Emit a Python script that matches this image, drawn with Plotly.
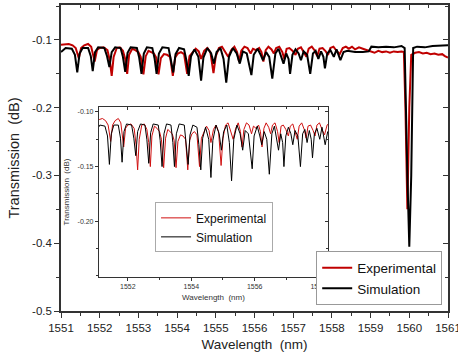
import plotly.graph_objects as go

# ---------------- data ----------------
wl_sim = [1551.00, 1551.12, 1551.28, 1551.36, 1551.42, 1551.48, 1551.56, 1551.70, 1551.77, 1551.82,
          1551.88, 1551.96, 1552.12, 1552.19, 1552.25, 1552.31, 1552.40, 1552.54, 1552.60, 1552.66,
          1552.72, 1552.80, 1552.96, 1553.02, 1553.08, 1553.14, 1553.22, 1553.36, 1553.42, 1553.47,
          1553.53, 1553.62, 1553.78, 1553.84, 1553.90, 1553.96, 1554.05, 1554.18, 1554.24, 1554.30,
          1554.36, 1554.45, 1554.55, 1554.62, 1554.68, 1554.78, 1554.88, 1554.95, 1555.02, 1555.12,
          1555.20, 1555.27, 1555.34, 1555.44, 1555.54, 1555.62, 1555.70, 1555.80, 1555.86, 1555.92,
          1555.98, 1556.08, 1556.16, 1556.22, 1556.30, 1556.38, 1556.46, 1556.54, 1556.62, 1556.70,
          1556.75, 1556.82, 1556.88, 1556.92, 1556.98, 1557.06, 1557.14, 1557.20, 1557.27, 1557.36,
          1557.44, 1557.51, 1557.58, 1557.65, 1557.72, 1557.78, 1557.82, 1557.88, 1557.96, 1558.05,
          1558.12, 1558.22, 1558.30, 1558.40, 1558.60, 1558.80, 1558.95, 1559.02, 1559.20, 1559.40,
          1559.60, 1559.80, 1559.88, 1559.95, 1560.00, 1560.05, 1560.10, 1560.20, 1560.40, 1560.60,
          1560.80, 1561.00]
tr_sim = [-0.118, -0.112, -0.113, -0.122, -0.148, -0.120, -0.112, -0.112, -0.124, -0.146,
          -0.118, -0.111, -0.112, -0.124, -0.140, -0.118, -0.111, -0.112, -0.125, -0.147,
          -0.119, -0.111, -0.112, -0.126, -0.150, -0.120, -0.111, -0.112, -0.128, -0.150,
          -0.120, -0.111, -0.112, -0.128, -0.148, -0.121, -0.112, -0.114, -0.130, -0.153,
          -0.124, -0.114, -0.125, -0.160, -0.126, -0.112, -0.120, -0.135, -0.118, -0.112,
          -0.128, -0.163, -0.125, -0.112, -0.120, -0.135, -0.117, -0.120, -0.135, -0.152,
          -0.122, -0.113, -0.122, -0.130, -0.118, -0.125, -0.157, -0.120, -0.113, -0.125,
          -0.135, -0.120, -0.128, -0.150, -0.122, -0.114, -0.120, -0.130, -0.117, -0.122,
          -0.150, -0.120, -0.116, -0.128, -0.117, -0.125, -0.142, -0.120, -0.115, -0.125,
          -0.114, -0.130, -0.118, -0.116, -0.118, -0.118, -0.117, -0.110, -0.111, -0.110,
          -0.111, -0.109, -0.112, -0.300, -0.405, -0.300, -0.112, -0.110, -0.111, -0.109,
          -0.108, -0.108]

wl_exp = [1551.00, 1551.10, 1551.20, 1551.30, 1551.38, 1551.46, 1551.52, 1551.60, 1551.70, 1551.78,
          1551.87, 1551.93, 1552.00, 1552.10, 1552.20, 1552.26, 1552.31, 1552.36, 1552.44, 1552.52,
          1552.60, 1552.66, 1552.71, 1552.76, 1552.84, 1552.92, 1553.00, 1553.06, 1553.13, 1553.19,
          1553.26, 1553.33, 1553.40, 1553.46, 1553.52, 1553.58, 1553.66, 1553.74, 1553.82, 1553.89,
          1553.95, 1554.02, 1554.10, 1554.18, 1554.26, 1554.32, 1554.40, 1554.48, 1554.56, 1554.62,
          1554.70, 1554.78, 1554.86, 1554.94, 1555.00, 1555.08, 1555.16, 1555.24, 1555.32, 1555.40,
          1555.48, 1555.55, 1555.60, 1555.66, 1555.74, 1555.82, 1555.90, 1555.96, 1556.04, 1556.12,
          1556.18, 1556.23, 1556.29, 1556.36, 1556.44, 1556.50, 1556.56, 1556.64, 1556.72, 1556.77,
          1556.83, 1556.90, 1556.98, 1557.06, 1557.12, 1557.20, 1557.28, 1557.34, 1557.40, 1557.48,
          1557.56, 1557.62, 1557.68, 1557.76, 1557.84, 1557.90, 1557.96, 1558.04, 1558.12, 1558.20,
          1558.28, 1558.36, 1558.44, 1558.52, 1558.60, 1558.70, 1558.80, 1558.90, 1559.00, 1559.10,
          1559.20, 1559.30, 1559.40, 1559.50, 1559.60, 1559.70, 1559.80, 1559.86, 1559.90, 1559.95,
          1560.00, 1560.05, 1560.15, 1560.25, 1560.35, 1560.45, 1560.55, 1560.65, 1560.75, 1560.85,
          1560.92, 1561.00]
tr_exp = [-0.107, -0.107, -0.106, -0.108, -0.112, -0.127, -0.112, -0.108, -0.106, -0.110,
          -0.132, -0.115, -0.112, -0.111, -0.115, -0.130, -0.153, -0.125, -0.112, -0.111,
          -0.116, -0.128, -0.150, -0.122, -0.113, -0.115, -0.118, -0.125, -0.151, -0.124,
          -0.116, -0.118, -0.120, -0.126, -0.151, -0.127, -0.121, -0.122, -0.125, -0.153,
          -0.126, -0.120, -0.118, -0.121, -0.150, -0.124, -0.119, -0.113, -0.117, -0.128,
          -0.116, -0.112, -0.118, -0.149, -0.124, -0.112, -0.110, -0.117, -0.125, -0.115,
          -0.110, -0.118, -0.132, -0.116, -0.110, -0.112, -0.120, -0.113, -0.115, -0.112,
          -0.118, -0.132, -0.115, -0.110, -0.114, -0.120, -0.112, -0.110, -0.118, -0.128,
          -0.113, -0.112, -0.116, -0.122, -0.113, -0.111, -0.118, -0.125, -0.113, -0.110,
          -0.116, -0.124, -0.113, -0.112, -0.117, -0.122, -0.112, -0.110, -0.116, -0.121,
          -0.112, -0.110, -0.113, -0.110, -0.114, -0.111, -0.113, -0.115, -0.117, -0.119,
          -0.116, -0.118, -0.117, -0.119, -0.117, -0.118, -0.117, -0.118, -0.200, -0.350,
          -0.200, -0.122, -0.119, -0.118, -0.120, -0.119, -0.121, -0.120, -0.122, -0.121,
          -0.124, -0.126]

series_names = ["Experimental", "Simulation"]

x_ticks = [1551, 1552, 1553, 1554, 1555, 1556, 1557, 1558, 1559, 1560, 1561]
x_tick_text = ["1551", "1552", "1553", "1554", "1555", "1556", "1557", "1558", "1559", "1560", "1561"]
y_ticks = [-0.5, -0.4, -0.3, -0.2, -0.1]
y_tick_text = ["-0.5", "-0.4", "-0.3", "-0.2", "-0.1"]

inset_x_ticks = [1552, 1554, 1556, 1558]
inset_x_tick_text = ["1552", "1554", "1556", "1558"]
inset_y_ticks = [-0.20, -0.15, -0.10]
inset_y_tick_text = ["-0.20", "-0.15", "-0.10"]

# ---------------- styling ----------------
RED = "#c00000"
INSET_RED = "#d01010"
BLACK = "#000000"
AXC = "#333333"
FONT = "Arial, Liberation Sans, sans-serif"

X_RANGE = [1551, 1561]
Y_RANGE = [-0.5, -0.0485]
IX_RANGE = [1551.09, 1558.31]
IY_RANGE = [-0.251, -0.0954]
INSET_XDOM = [0.098, 0.690]
INSET_YDOM = [0.111, 0.667]

fig = go.Figure()

fig.add_trace(go.Scatter(x=wl_exp, y=tr_exp, mode="lines", name=series_names[0],
                         line=dict(color=RED, width=2), xaxis="x", yaxis="y", legend="legend"))
fig.add_trace(go.Scatter(x=wl_sim, y=tr_sim, mode="lines", name=series_names[1],
                         line=dict(color=BLACK, width=2), xaxis="x", yaxis="y", legend="legend"))
fig.add_trace(go.Scatter(x=wl_exp, y=tr_exp, mode="lines", name=series_names[0],
                         line=dict(color=INSET_RED, width=1), xaxis="x3", yaxis="y3", legend="legend2"))
fig.add_trace(go.Scatter(x=wl_sim, y=tr_sim, mode="lines", name=series_names[1],
                         line=dict(color=BLACK, width=1), xaxis="x3", yaxis="y3", legend="legend2"))
fig.add_trace(go.Scatter(x=[None], y=[None], xaxis="x2", yaxis="y2", showlegend=False, hoverinfo="skip"))
fig.add_trace(go.Scatter(x=[None], y=[None], xaxis="x4", yaxis="y4", showlegend=False, hoverinfo="skip"))

main_axis_common = dict(showline=True, linecolor=AXC, linewidth=1.5, showgrid=False, zeroline=False,
                        tickcolor=AXC, tickwidth=1.2, ticklen=5,
                        tickfont=dict(family=FONT, size=11.5, color="#222222"))

frame_common = dict(showline=True, linecolor=AXC, linewidth=1.5, showgrid=False, zeroline=False,
                    tickcolor=AXC, tickwidth=1.2, ticklen=5, showticklabels=False, ticks="inside")
inset_frame_common = dict(showline=True, linecolor=AXC, linewidth=1, showgrid=False, zeroline=False,
                          tickcolor=AXC, tickwidth=1, ticklen=3, showticklabels=False, ticks="inside")

fig.update_layout(
    width=458, height=360,
    margin=dict(l=61, r=10, t=5, b=49, autoexpand=False),
    paper_bgcolor="white", plot_bgcolor="white",
    font=dict(family=FONT, color="#222222"),
    xaxis=dict(range=X_RANGE, tickmode="array", tickvals=x_ticks, ticktext=x_tick_text,
               ticks="outside", anchor="y", ticklabeloverflow="allow",
               minor=dict(ticks="outside", ticklen=3, tickmode="linear", tick0=1551, dtick=0.5,
                          tickcolor=AXC, showgrid=False),
               title=dict(text="Wavelength  (nm)", font=dict(family=FONT, size=13.5, color="#222222"),
                          standoff=7),
               **main_axis_common),
    yaxis=dict(range=Y_RANGE, tickmode="array", tickvals=y_ticks, ticktext=y_tick_text,
               ticks="outside", anchor="x",
               minor=dict(ticks="outside", ticklen=3, tickmode="linear", tick0=-0.5, dtick=0.05,
                          tickcolor=AXC, showgrid=False),
               title=dict(text="Transmission  (dB)", font=dict(family=FONT, size=14.5, color="#222222"),
                          standoff=9),
               **main_axis_common),
    xaxis2=dict(range=X_RANGE, overlaying="x", side="top", anchor="y", tickmode="array",
                tickvals=x_ticks,
                minor=dict(ticks="inside", ticklen=3, tickmode="linear", tick0=1551, dtick=0.5,
                           tickcolor=AXC, showgrid=False),
                **frame_common),
    yaxis2=dict(range=Y_RANGE, overlaying="y", side="right", anchor="x", tickmode="array",
                tickvals=y_ticks,
                minor=dict(ticks="inside", ticklen=3, tickmode="linear", tick0=-0.5, dtick=0.05,
                           tickcolor=AXC, showgrid=False),
                **frame_common),
    xaxis3=dict(domain=INSET_XDOM, range=IX_RANGE, anchor="y3", tickmode="array",
                tickvals=inset_x_ticks, ticktext=inset_x_tick_text, ticks="outside", ticklen=3,
                ticklabeloverflow="allow",
                minor=dict(ticks="outside", ticklen=2, tickmode="linear", tick0=1551, dtick=1,
                           tickcolor=AXC, showgrid=False),
                showline=True, linecolor=AXC, linewidth=1, showgrid=False, zeroline=False,
                tickcolor=AXC, tickwidth=1, tickfont=dict(family=FONT, size=7, color="#333333"),
                title=dict(text="Wavelength  (nm)", font=dict(family=FONT, size=8, color="#333333"),
                           standoff=4)),
    yaxis3=dict(domain=INSET_YDOM, range=IY_RANGE, anchor="x3", tickmode="array",
                tickvals=inset_y_ticks, ticktext=inset_y_tick_text, ticks="outside", ticklen=3,
                minor=dict(ticks="outside", ticklen=2, tickmode="linear", tick0=-0.25, dtick=0.025,
                           tickcolor=AXC, showgrid=False),
                showline=True, linecolor=AXC, linewidth=1, showgrid=False, zeroline=False,
                tickcolor=AXC, tickwidth=1, tickfont=dict(family=FONT, size=7, color="#333333"),
                title=dict(text="Transmission  (dB)", font=dict(family=FONT, size=8, color="#333333"),
                           standoff=6)),
    xaxis4=dict(domain=INSET_XDOM, range=IX_RANGE, overlaying="x3", side="top", anchor="y3",
                tickmode="array", tickvals=inset_x_ticks,
                minor=dict(ticks="inside", ticklen=2, tickmode="linear", tick0=1551, dtick=1,
                           tickcolor=AXC, showgrid=False),
                **inset_frame_common),
    yaxis4=dict(domain=INSET_YDOM, range=IY_RANGE, overlaying="y3", side="right", anchor="x3",
                tickmode="array", tickvals=inset_y_ticks,
                minor=dict(ticks="inside", ticklen=2, tickmode="linear", tick0=-0.25, dtick=0.025,
                           tickcolor=AXC, showgrid=False),
                **inset_frame_common),
    legend=dict(x=0.985, y=0.018, xanchor="right", yanchor="bottom",
                bgcolor="white", bordercolor="#999999", borderwidth=1,
                font=dict(family=FONT, size=13.5, color="#111111"),
                itemwidth=30, tracegroupgap=0),
    legend2=dict(x=0.243, y=0.355, xanchor="left", yanchor="top",
                 bgcolor="white", bordercolor="#aaaaaa", borderwidth=1,
                 font=dict(family=FONT, size=12, color="#111111"),
                 itemwidth=30, tracegroupgap=0),
)

fig.write_html("out.html", config={"displayModeBar": False},
               post_script="document.body.style.margin='0px';")
